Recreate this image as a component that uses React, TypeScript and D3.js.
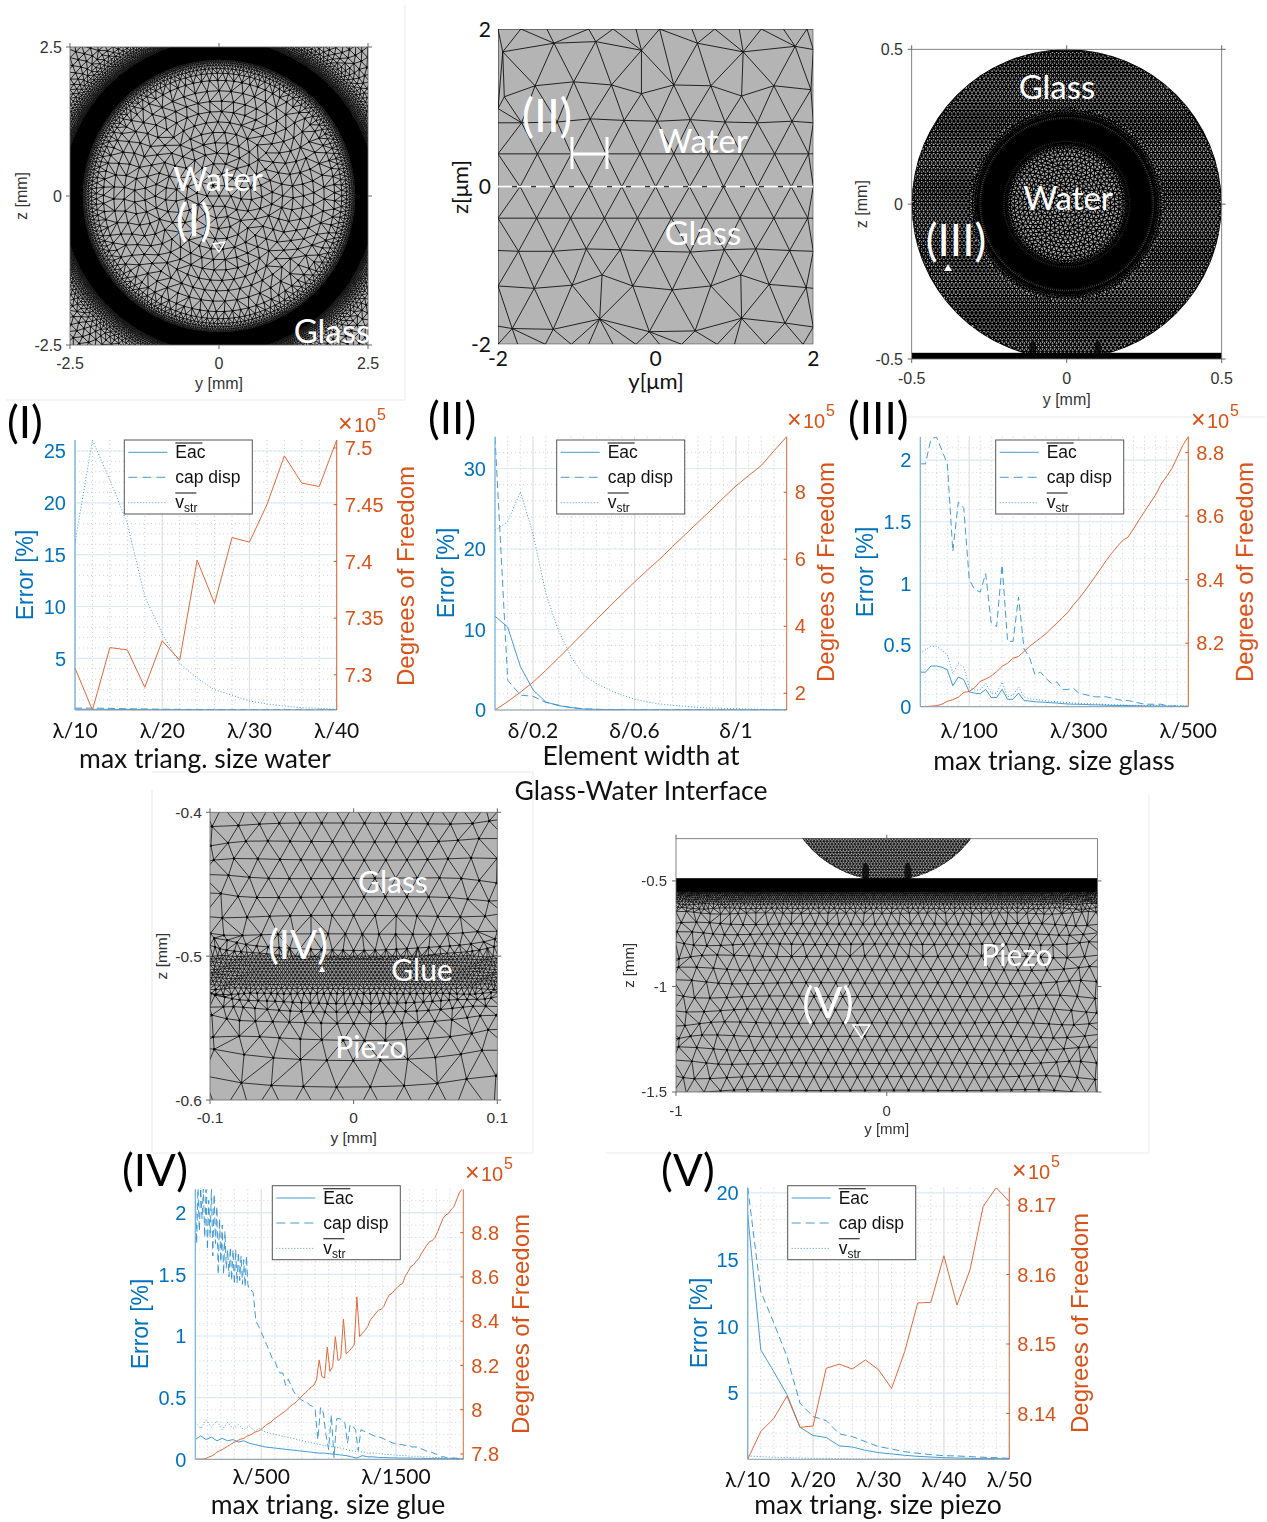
import React from 'react';
import * as d3 from 'd3';

// ---------- convergence curves ----------
const waterSizes = d3.range(10, 41, 2);
const waterEac = [.1, .09, .08, .07, .06, .05, .05, .04, .04, .03, .03, .03, .02, .02, .02, .02];
const waterCap = [.2, .2, .18, .14, .12, .1, .08, .07, .06, .05, .05, .04, .04, .03, .03, .03];
const waterVstr = [16.1, 26.06, 22.2, 18.0, 10.95, 7.4, 4.5, 3.1, 1.95, 1.46, .88, .6, .4, .24, .18, .11];
const waterDof = [7.306, 7.269, 7.324, 7.322, 7.289, 7.33, 7.313, 7.401, 7.363, 7.421, 7.417, 7.45, 7.493, 7.469, 7.466, 7.507];

const interfaceSizes = d3.range(1, 25).map(i => i * 0.05);
const interfaceEac = [11.65, 10.3, 5.4, 2.5, 1.0, .55, .3, .12, .08, .05, .04, .03, .03, .02, .02, .02, .01, .01, .01, .01, .01, .01, .01, .01];
const interfaceCap = [33.9, 3.7, 1.85, 1.7, .95, .6, .3, .15, .08, .05, .04, .03, .03, .02, .02, .02, .01, .01, .01, .01, .01, .01, .01, .01];
const interfaceVstr = [22.3, 23.4, 27.1, 21.9, 14.5, 9.9, 6.6, 4.3, 3.3, 2.5, 1.85, 1.35, 1.0, .75, .58, .45, .33, .25, .2, .16, .12, .08, .06, .05];
const interfaceDof = [1.5, 1.75, 2.03, 2.33, 2.68, 3.05, 3.43, 3.81, 4.2, 4.58, 4.95, 5.32, 5.67, 6.01, 6.38, 6.74, 7.1, 7.46, 7.83, 8.19, 8.5, 8.8, 9.24, 9.66];

const glassSizes = d3.range(10, 501, 10);
const glassCap = [1.97, 1.97, 2.17, 2.19, 2.08, 1.97, 1.26, 1.66, 1.61, 1.03, .95, .93, 1.08, .68, .65, 1.15, .53, .53, .89, .47, .4, .26, .28, .23, .19, .2, .14, .14, .15, .11, .1, .09, .08, .08, .08, .07, .06, .05, .05, .04, .03, .02, .02, .02, .02, .01, .003, .01, .003, .003];
const glassEac = [.28, .28, .33, .33, .32, .3, .17, .24, .22, .12, .11, .105, .14, .075, .075, .14, .06, .06, .11, .05, .046, .04, .038, .035, .032, .03, .025, .022, .02, .02, .018, .016, .015, .014, .012, .011, .01, .01, .009, .008, .007, .006, .006, .005, .005, .004, .004, .003, .003, .003];
const glassVstr = [.43, .46, .49, .49, .46, .42, .27, .35, .32, .16, .135, .135, .19, .11, .11, .2, .08, .095, .16, .08, .065, .06, .054, .05, .043, .04, .036, .033, .03, .028, .026, .024, .022, .02, .018, .016, .015, .014, .012, .011, .01, .01, .009, .008, .008, .007, .006, .006, .005, .005];
const glassDof = [8.0, 8.0, 8.002, 8.003, 8.008, 8.017, 8.022, 8.03, 8.045, 8.048, 8.06, 8.08, 8.087, 8.097, 8.11, 8.127, 8.137, 8.153, 8.158, 8.174, 8.19, 8.203, 8.216, 8.23, 8.247, 8.263, 8.28, 8.297, 8.32, 8.34, 8.362, 8.386, 8.41, 8.435, 8.46, 8.483, 8.504, 8.523, 8.534, 8.56, 8.588, 8.614, 8.64, 8.666, 8.7, 8.724, 8.75, 8.786, 8.823, 8.85];

const glueCapSizes = [...d3.range(10, 420, 10), ...d3.range(420, 2001, 20)];
const glueCap = [
  2.19, 1.75, 2.2, 1.85, 2.2, 1.95, 2.2, 1.8, 2.19, 1.7, 2.1, 1.8, 2.2, 1.65, 2.15, 1.75, 2.05, 1.5, 1.95, 1.6, 1.9, 1.5, 1.85, 1.55, 1.7, 1.48, 1.72, 1.45, 1.7, 1.42, 1.7, 1.43, 1.68, 1.45, 1.65, 1.42, 1.62, 1.4, 1.65, 1.42, 1.38,
  1.38, 1.35, 1.12, 1.08, 1.03, .98, .93, .88, .82, .8, .74, .7, .7, .6, .65, .6, .55, .52, .5, .48, .47, .46, .44, .43, .4, .16, .42, .38, .2, .08, .36, .01, .33, .33, .32, .3, .13, .28, .27, .24, .07, .24, .23, .22, .21, .2, .19, .18, .18, .17, .16, .15, .14, .13, .13, .12, .12, .115, .11, .11, .1, .1, .1, .09, .08, .07, .06, .06, .05, .04, .03, .02, .02, .01, .01, .01, .01, .005, .005, .005,
];
const glueSizes = d3.range(10, 2011, 40);
const glueEac = [.16, .19, .16, .18, .15, .17, .15, .16, .14, .15, .13, .12, .11, .1, .095, .09, .085, .08, .075, .07, .065, .06, .055, .05, .05, .045, .04, .035, .03, .02, .01, .03, .02, .02, .015, .015, .012, .012, .01, .01, .01, .008, .008, .006, .006, .005, .005, .004, .004, .003, .003];
const glueVstr = [.3, .25, .32, .26, .31, .24, .3, .25, .28, .24, .27, .23, .25, .22, .21, .2, .19, .18, .17, .16, .15, .14, .13, .12, .11, .105, .1, .09, .08, .07, .06, .06, .05, .05, .05, .04, .04, .035, .03, .03, .025, .025, .02, .02, .015, .015, .012, .01, .01, .008, .008];
const glueDofSizes = d3.range(10, 2001, 20);
const glueDof = [
  7.777, 7.777, 7.777, 7.777, 7.78, 7.786, 7.79, 7.798, 7.808, 7.814, 7.82, 7.827, 7.835, 7.842, 7.85, 7.856, 7.862, 7.868, 7.87, 7.88,
  7.884, 7.89, 7.898, 7.902, 7.907, 7.917, 7.928, 7.937, 7.943, 7.955, 7.964, 7.973, 7.982, 7.99, 8.0, 8.012, 8.022, 8.03, 8.042, 8.053,
  8.068, 8.078, 8.09, 8.102, 8.11, 8.135, 8.225, 8.15, 8.143, 8.283, 8.173, 8.195, 8.33, 8.222, 8.233, 8.41, 8.253, 8.263, 8.278, 8.293,
  8.51, 8.33, 8.346, 8.358, 8.376, 8.406, 8.42, 8.436, 8.45, 8.454, 8.466, 8.496, 8.519, 8.526, 8.54, 8.553, 8.564, 8.571, 8.605, 8.624,
  8.647, 8.654, 8.67, 8.684, 8.707, 8.725, 8.744, 8.76, 8.764, 8.779, 8.805, 8.835, 8.865, 8.88, 8.887, 8.905, 8.917, 8.947, 8.98, 8.996,
];

const piezoSizes = d3.range(10, 51, 2);
const piezoEac = [18.4, 8.25, 6.6, 4.9, 2.45, 1.83, 1.68, 1.05, .97, .72, .55, .45, .35, .27, .22, .17, .15, .12, .1, .1, .07];
const piezoCap = [20.4, 12.6, 10.25, 7.75, 4.25, 3.25, 2.95, 1.95, 1.75, 1.37, 1, .82, .62, .5, .4, .32, .3, .25, .2, .17, .12];
const piezoVstr = [.3, .25, .2, .18, .15, .12, .11, .1, .09, .08, .07, .07, .06, .06, .06, .05, .05, .05, .05, .05, .05];
const piezoDof = [8.1334, 8.1374, 8.1393, 8.1425, 8.138, 8.1382, 8.1465, 8.1471, 8.1464, 8.1477, 8.1463, 8.1436, 8.1489, 8.1559, 8.156, 8.1627, 8.1556, 8.1607, 8.1698, 8.1725, 8.1705];

// ---------- mesh nodes ----------
// panel II nodes, one row per list: [y, z] in um
const interfaceNodes: number[][] = [
  ...[-2, -1.71, -1.38, -.85, -.54, -.25, .05, .46, .75, 1.06, 1.34, 1.62, 1.92, 2].map(y => [y, 2]),
  [-1.94, 1.71], [-1.29, 1.82], [-.76, 1.84], [-.18, 1.73], [.53, 1.82], [1.11, 1.71], [1.77, 1.78], [2, 1.74],
  [-2, .99], [-1.92, 1.14], [-1.53, 1.28], [-1.04, 1.33], [-.56, 1.29], [-.18, 1.18], [.23, 1.29], [.7, 1.28], [1.09, 1.15], [1.5, 1.28], [1.97, 1.23],
  [-2, .81], [-1.7, .81], [-1.25, .82], [-.83, .86], [-.4, .84], [.02, .83], [.44, .85], [.88, .82], [1.29, .81], [1.73, .83], [2, .81],
  ...[-2, -1.5, -1.07, -.63, -.2, .23, .67, 1.09, 1.51, 1.94, 2].map(y => [y, .416]),
  ...[-2, -1.72, -1.29, -.85, -.43, 0, .43, .86, 1.29, 1.72, 2].map(y => [y, 0]),
  ...[-2, -1.51, -1.08, -.65, -.23, .2, .64, 1.07, 1.5, 1.93, 2].map(y => [y, -.4]),
  [-2, -.81], [-1.74, -.82], [-1.3, -.82], [-.88, -.79], [-.45, -.8], [-.03, -.82], [.44, -.83], [.87, -.8], [1.27, -.79], [1.7, -.81], [2, -.82],
  [-2, -1.26], [-1.54, -1.29], [-1.06, -1.25], [-.68, -1.12], [-.29, -1.26], [.21, -1.31], [.7, -1.26], [1.08, -1.12], [1.44, -1.24], [1.91, -1.28], [2, -1.29],
  [-2, -1.77], [-1.82, -1.8], [-1.3, -1.81], [-.71, -1.68], [-.08, -1.84], [.5, -1.83], [1.09, -1.67], [1.64, -1.73], [2, -1.78],
  ...[-2, -1.75, -1.4, -1.07, -.85, -.54, -.25, .05, .33, .78, 1, 1.39, 1.87, 2].map(y => [y, -2]),
];

// horizontal node rows of panels IV and V, z in mm
const glueRows = [
  -.3948, -.4076, -.4204, -.4331, -.4459, -.4589, -.4718, -.4846, -.4922, -.4975,
  -.5, -.5022, -.5044, -.5066, -.5088, -.511, -.5132, -.5154, -.5176, -.5198,
  -.5225, -.526, -.5305, -.5365, -.5444, -.556, -.5699, -.5884, -.61,
];
const piezoRows = [
  -.547, -.553, -.56, -.568, -.577, -.587, -.598, -.61, -.63, -.653, -.704, -.751, -.8, -.857, -.92, -.983, -1.047,
  -1.11, -1.173, -1.237, -1.3, -1.364, -1.428, -1.492, -1.556,
];

function ringNodes(size: (r: number) => number, rMax: number, keep: (y: number, z: number) => boolean) {
  const pts: number[][] = [[0, 0]];
  let r = size(0);
  let k = 0;
  while (r < rMax) {
    const h = size(r);
    const n = Math.max(5, Math.round((2 * Math.PI * r) / h));
    for (let i = 0; i < n; i++) {
      const a = ((i + (k % 2) / 2) / n) * 2 * Math.PI + k * 0.13;
      const y = r * Math.cos(a);
      const z = r * Math.sin(a);
      if (keep(y, z)) pts.push([y, z]);
    }
    r += h * 0.87;
    k++;
  }
  return pts;
}

function hexNodes(h: number, yMin: number, yMax: number, zMin: number, zMax: number, keep: (y: number, z: number) => boolean) {
  const pts: number[][] = [];
  let row = 0;
  for (let z = zMin; z <= zMax; z += h * 0.866, row++) {
    for (let y = yMin + (row % 2) * h * 0.5; y <= yMax; y += h) {
      if (keep(y, z)) pts.push([y, z]);
    }
  }
  return pts;
}

function rowNodes(rows: number[], yMin: number, yMax: number, bend: (z: number, t: number) => number) {
  const pts: number[][] = [];
  const mid = (yMin + yMax) / 2;
  const half = (yMax - yMin) / 2;
  let prevH = 0;
  rows.forEach((z, i) => {
    const above = i > 0 ? rows[i - 1] - z : z - rows[1];
    const below = i < rows.length - 1 ? z - rows[i + 1] : above;
    const gap = (above + below) / 2;
    const wanted = gap * 1.155;
    const h = prevH && Math.abs(wanted / prevH - 1) < 0.14 ? prevH : wanted;
    prevH = h;
    const count = Math.ceil(half / h) + 2;
    for (let k = -count; k <= count; k++) {
      const y = mid + (k + (i % 2) / 2) * h;
      const t = (y - mid) / half;
      const wobble = Math.min(1, t * t * t * t + 0.05);
      pts.push([
        y + 0.28 * h * wobble * Math.sin(k * 1.3 + i * 2.1),
        z + 0.25 * gap * wobble * Math.cos(k * 0.7 + i * 1.1) + bend(z, t),
      ]);
    }
  });
  return pts;
}

// small dots on the nodes, the blurred scan of the mesh shows them darker than the edges
function dotsPath(points: number[][], radius: (p: number[]) => number) {
  const path = d3.path();
  points.forEach(p => {
    const r = radius(p);
    path.moveTo(p[0] + r, p[1]);
    path.arc(p[0], p[1], r, 0, 2 * Math.PI);
  });
  return path.toString();
}

// panel I: water core and glass corners graded towards the interface
const sizeI = d3.scaleLinear().domain([0, 1.8, 2.0, 2.2, 2.29, 2.62, 2.8, 3.0, 3.2, 3.7]).range([.2, .2, .11, .045, .022, .022, .05, .1, .14, .14]).clamp(true);
const keepI = (y: number, z: number) => {
  const r = Math.hypot(y, z);
  return (r < 2.3 || r > 2.6) && Math.abs(y) < 2.7 && Math.abs(z) < 2.7;
};
const nodesI = ringNodes(sizeI, 3.9, keepI);
const delaunayI = d3.Delaunay.from(nodesI);
const dotsI = dotsPath(nodesI, p => Math.min(.0185, sizeI(Math.hypot(p[0], p[1])) * .13));

// panel III: fine water core, fine ring, even glass
const sizeIII = d3.scaleLinear().domain([0, .165, .2, .28, .31]).range([.016, .016, .006, .006, .013]).clamp(true);
const discIII = [
  ...ringNodes(sizeIII, .31, (y, z) => { const r = Math.hypot(y, z); return r < .2 || r > .28; }),
  ...hexNodes(.013, -.52, .52, -.52, .52, (y, z) => { const r = Math.hypot(y, z); return r >= .31 && r <= .5; }),
  ...d3.range(0, 216).map(i => [.5 * Math.cos(i * Math.PI / 108), .5 * Math.sin(i * Math.PI / 108)]),
];
const meshIII = d3.Delaunay.from(discIII).render();

// rows around the glue layer sag a little in the middle
const glueBend = (z: number, t: number) => {
  if (z < -.488 && z > -.4985) return .0075 * (t * t - .5);
  if (z < -.53) return .005 * (t * t - .5);
  return 0;
};
const nodesIV = rowNodes(glueRows, -.1, .1, glueBend);
const delaunayIV = d3.Delaunay.from(nodesIV);
const dotsIV = dotsPath(nodesIV, p => (p[1] < -.497 && p[1] > -.523 ? .45 : 1.2) / 1436.5);
const nodesV = rowNodes(piezoRows, -1, 1, () => 0);
const delaunayV = d3.Delaunay.from(nodesV);
const dotsV = dotsPath(nodesV, p => (p[1] > -.66 ? .5 : 1.1) / 210.75);
const discV = [
  ...hexNodes(.0155, -.5, .5, -.5, -.27, (y, z) => Math.hypot(y, z) <= .5),
  ...d3.range(0, 216).map(i => [.5 * Math.cos(i * Math.PI / 108), .5 * Math.sin(i * Math.PI / 108)]).filter(p => p[1] < -.27),
];
const meshVDisc = d3.Delaunay.from(discV).render();

const SANS = "'Liberation Sans', Arial, sans-serif";
const LABEL = "Lato, 'Open Sans', sans-serif";
const BLUE = '#0072BD';
const ORANGE = '#D95319';
const MESH_GREY = '#b4b4b4';
const FAINT = '#e9e9e9';
const FIXED_STROKE = { vectorEffect: 'non-scaling-stroke' } as any;

const frameLines = [
  [405, 5, 405, 400], [6, 400, 405, 400], [905, 417, 1265, 417],
  [152, 772, 533, 772], [533, 772, 533, 1153], [152, 790, 152, 1153], [152, 1153, 533, 1153],
  [606, 1153, 1149, 1153], [1149, 795, 1149, 1153],
];

type Series = { xs: number[]; ys: number[] };
type ChartProps = {
  id: string;
  box: { l: number; r: number; t: number; b: number };
  xDomain: number[]; xTicks: number[]; xLabels: string[]; xMinor: number[]; xTickY: number;
  yDomain: number[]; yTicks: number[]; yMinor: number[];
  dofDomain: number[]; dofTicks: number[];
  eac: Series; cap: Series; vstr: Series; dof: Series;
  legend: number[]; errorX: number; errorY: number; dofX: number; dofY: number; power: number[];
};

function LegendLabels({ x, y }: { x: number; y: number }) {
  return (
    <g fontFamily={SANS} fontSize={17.5} fill="#111">
      <text x={x + 51} y={y + 18}>Eac</text>
      <line x1={x + 51} x2={x + 78} y1={y + 3} y2={y + 3} stroke="#333" strokeWidth={1.2} />
      <text x={x + 51} y={y + 43}>cap disp</text>
      <text x={x + 51} y={y + 68}>v<tspan fontSize={12} dy={4}>str</tspan></text>
      <line x1={x + 51} x2={x + 72} y1={y + 53} y2={y + 53} stroke="#333" strokeWidth={1.2} />
    </g>
  );
}

function ConvergenceChart(p: ChartProps) {
  const { l, r, t, b } = p.box;
  const x = d3.scaleLinear().domain(p.xDomain).range([l, r]);
  const y = d3.scaleLinear().domain(p.yDomain).range([b, t]);
  const yDof = d3.scaleLinear().domain(p.dofDomain).range([b, t]);
  const path = (s: Series, sy: d3.ScaleLinear<number, number>) =>
    d3.line<number>().x((_, i) => x(s.xs[i])).y(d => sy(d))(s.ys) || '';
  const [lx, ly] = p.legend;
  return (
    <g>
      <clipPath id={p.id}><rect x={l} y={t} width={r - l} height={b - t} /></clipPath>
      {p.xMinor.map(v => <line key={v} x1={x(v)} x2={x(v)} y1={t} y2={b} stroke="#bdbdbd" strokeWidth={0.8} strokeDasharray="1 3" />)}
      {p.yMinor.map(v => <line key={v} x1={l} x2={r} y1={y(v)} y2={y(v)} stroke="#b9cfde" strokeWidth={0.8} strokeDasharray="1 3" />)}
      {p.xTicks.map(v => <line key={v} x1={x(v)} x2={x(v)} y1={t} y2={b} stroke="#e3e3e3" strokeWidth={1.2} />)}
      {p.yTicks.map(v => <line key={v} x1={l} x2={r} y1={y(v)} y2={y(v)} stroke="#dcebf5" strokeWidth={1.2} />)}
      <g clipPath={`url(#${p.id})`} fill="none">
        <path d={path(p.vstr, y)} stroke="#2f8fd0" strokeWidth={0.9} strokeDasharray="1 2" />
        <path d={path(p.cap, y)} stroke="#2f8fd0" strokeWidth={0.9} strokeDasharray="7 4" />
        <path d={path(p.eac, y)} stroke="#2f8fd0" strokeWidth={0.9} />
        <path d={path(p.dof, yDof)} stroke="#e2693a" strokeWidth={1} />
      </g>
      <line x1={l} x2={r} y1={b} y2={b} stroke="#8a9aa5" strokeWidth={1} />
      <line x1={l} x2={l} y1={t} y2={b} stroke="#6fb0dc" strokeWidth={1.2} />
      <line x1={r} x2={r} y1={t} y2={b} stroke={ORANGE} strokeWidth={1} opacity={0.85} />
      {p.yTicks.map(v => (
        <text key={v} x={l - 9} y={y(v)} dy=".36em" textAnchor="end" fontFamily={SANS} fontSize={20} fill={BLUE}>{v}</text>
      ))}
      {p.dofTicks.map(v => (
        <g key={v}>
          <line x1={r - 3} x2={r} y1={yDof(v)} y2={yDof(v)} stroke={ORANGE} />
          <text x={r + 8} y={yDof(v)} dy=".36em" fontFamily={SANS} fontSize={20} fill={ORANGE}>{v}</text>
        </g>
      ))}
      {p.xTicks.map((v, i) => (
        <text key={v} x={x(v)} y={p.xTickY} textAnchor="middle" fontFamily={LABEL} fontSize={21} fill="#111">{p.xLabels[i]}</text>
      ))}
      <text transform={`translate(${p.errorX},${p.errorY}) rotate(-90)`} dy=".35em" textAnchor="middle" fontFamily={SANS} fontSize={23} fill={BLUE}>Error [%]</text>
      <text transform={`translate(${p.dofX},${p.dofY}) rotate(-90)`} dy=".35em" textAnchor="middle" fontFamily={SANS} fontSize={24} fill={ORANGE}>Degrees of Freedom</text>
      <g fontFamily={SANS} fill={ORANGE}>
        <text x={p.power[0] - 1} y={p.power[1]} fontSize={25}>×</text>
        <text x={p.power[0] + 15} y={p.power[1]} fontSize={20}>10</text>
        <text x={p.power[0] + 38} y={p.power[1] - 12} fontSize={16}>5</text>
      </g>
      <rect x={lx} y={ly} width={128} height={74} fill="#fff" stroke="#555" strokeWidth={1} />
      <line x1={lx + 4} x2={lx + 43} y1={ly + 12.3} y2={ly + 12.3} stroke="#2f8fd0" strokeWidth={0.9} />
      <line x1={lx + 4} x2={lx + 43} y1={ly + 37.3} y2={ly + 37.3} stroke="#2f8fd0" strokeWidth={0.9} strokeDasharray="9 5" />
      <line x1={lx + 4} x2={lx + 43} y1={ly + 62.7} y2={ly + 62.7} stroke="#2f8fd0" strokeWidth={0.9} strokeDasharray="1 2" />
      <LegendLabels x={lx} y={ly} />
    </g>
  );
}

type MeshFrameProps = {
  x: d3.ScaleLinear<number, number>; y: d3.ScaleLinear<number, number>;
  xTicks: number[]; yTicks: number[]; xBase: number; yRight: number;
  xTitle: string; xTitleY: number; zTitleX: number; fontSize: number;
};

function MeshFrame(p: MeshFrameProps) {
  const [l, r] = p.x.range();
  const [b, t] = p.y.range();
  return (
    <g fontFamily={SANS} fontSize={p.fontSize} fill="#333">
      <rect x={l} y={t} width={r - l} height={b - t} fill="none" stroke="#666" strokeWidth={0.8} />
      {p.xTicks.map(v => (
        <g key={v}>
          <line x1={p.x(v)} x2={p.x(v)} y1={b} y2={b + 4} stroke="#666" />
          <line x1={p.x(v)} x2={p.x(v)} y1={t} y2={t - 4} stroke="#666" />
          <text x={p.x(v)} y={p.xBase} textAnchor="middle">{v}</text>
        </g>
      ))}
      {p.yTicks.map(v => (
        <g key={v}>
          <line x1={l - 4} x2={l} y1={p.y(v)} y2={p.y(v)} stroke="#666" />
          <line x1={r} x2={r + 4} y1={p.y(v)} y2={p.y(v)} stroke="#666" />
          <text x={p.yRight} y={p.y(v)} dy=".36em" textAnchor="end">{v}</text>
        </g>
      ))}
      <text x={(l + r) / 2} y={p.xTitleY} textAnchor="middle">{p.xTitle}</text>
      <text transform={`translate(${p.zTitleX},${(t + b) / 2}) rotate(-90)`} dy=".35em" textAnchor="middle">z [mm]</text>
    </g>
  );
}

function WhiteLabel({ x, y, size = 33, children }: any) {
  return <text x={x} y={y} fontFamily={LABEL} fontSize={size} textAnchor="middle" fill="#fff">{children}</text>;
}

function BigLabel({ x, y, children }: any) {
  return <text x={x} y={y} fontFamily={LABEL} fontSize={44} fill="#000">{children}</text>;
}

function Caption({ x, y, children }: any) {
  return <text x={x} y={y} textAnchor="middle" fontFamily={LABEL} fontSize={26.5} fill="#111">{children}</text>;
}

export default function App() {
  const xI = d3.scaleLinear().domain([-2.5, 2.5]).range([70, 368]);
  const zI = d3.scaleLinear().domain([-2.5, 2.5]).range([345, 47]);
  const xII = d3.scaleLinear().domain([-2, 2]).range([498, 813.3]);
  const zII = d3.scaleLinear().domain([-2, 2]).range([344.3, 29]);
  const xIII = d3.scaleLinear().domain([-.5, .5]).range([911.7, 1221.7]);
  const zIII = d3.scaleLinear().domain([-.5, .5]).range([359, 49.3]);
  const xIV = d3.scaleLinear().domain([-.1, .1]).range([210, 497.3]);
  const zIV = d3.scaleLinear().domain([-.6, -.4]).range([1100, 812.3]);
  const xV = d3.scaleLinear().domain([-1, 1]).range([676, 1097.5]);
  const zV = d3.scaleLinear().domain([-1.5, -.3]).range([1092, 838.7]);

  const toPx = (x: d3.ScaleLinear<number, number>, z: d3.ScaleLinear<number, number>) =>
    `matrix(${x(1) - x(0)},0,0,${z(1) - z(0)},${x(0)},${z(0)})`;
  const arcI = (d3.arc() as any)({ innerRadius: xI(2.29) - xI(0), outerRadius: xI(2.62) - xI(0), startAngle: 0, endAngle: 2 * Math.PI }) || '';
  const arcIII = (d3.arc() as any)({ innerRadius: xIII(.2) - xIII(0), outerRadius: xIII(.28) - xIII(0), startAngle: 0, endAngle: 2 * Math.PI }) || '';

  return (
    <svg width={1267} height={1522} style={{ position: 'absolute', left: 0, top: 0, background: '#fff' }}>
      <defs>
        <filter id="soft" x="-5%" y="-5%" width="110%" height="110%"><feGaussianBlur stdDeviation="0.45" /></filter>
        <filter id="softRing" x="-10%" y="-10%" width="120%" height="120%"><feGaussianBlur stdDeviation="1.6" /></filter>
        <clipPath id="clipI"><rect x={70} y={47} width={298} height={298} /></clipPath>
        <clipPath id="clipII"><rect x={498} y={29} width={315.3} height={315.3} /></clipPath>
        <clipPath id="clipIII"><rect x={911.7} y={49.3} width={310} height={309.7} /></clipPath>
        <clipPath id="clipIV"><rect x={210} y={812.3} width={287.3} height={287.7} /></clipPath>
        <clipPath id="clipV"><rect x={676} y={838.7} width={421.5} height={253.3} /></clipPath>
        <clipPath id="discIII"><circle cx={xIII(0)} cy={zIII(0)} r={xIII(.5) - xIII(0)} /></clipPath>
        <clipPath id="discV"><circle cx={xV(0)} cy={zV(0)} r={xV(.5) - xV(0)} /></clipPath>
      </defs>

      {frameLines.map((d, i) => <line key={i} x1={d[0]} y1={d[1]} x2={d[2]} y2={d[3]} stroke={FAINT} />)}

      {/* panel I */}
      <g clipPath="url(#clipI)">
        <g filter="url(#soft)">
          <rect x={70} y={47} width={298} height={298} fill={MESH_GREY} />
          <path d={delaunayI.render()} transform={toPx(xI, zI)} fill="none" stroke="#111" strokeWidth={0.9} style={FIXED_STROKE} />
          <path d={dotsI} transform={toPx(xI, zI)} fill="#000" />
          <path d={arcI} transform={`translate(${xI(0)},${zI(0)})`} fill="#000" />
        </g>
      </g>
      <MeshFrame x={xI} y={zI} xTicks={[-2.5, 0, 2.5]} yTicks={[-2.5, 0, 2.5]} xBase={369} yRight={62} xTitle="y [mm]" xTitleY={389} zTitleX={21} fontSize={16} />
      <WhiteLabel x={218} y={191}>Water</WhiteLabel>
      <WhiteLabel x={194} y={236} size={44}>(I)</WhiteLabel>
      <WhiteLabel x={332} y={343}>Glass</WhiteLabel>
      <path d={d3.line()([[213, 244], [225, 242], [219, 252]]) + 'Z'} fill="none" stroke="#fff" strokeWidth={1.4} />

      {/* panel II */}
      <g clipPath="url(#clipII)">
        <rect x={498} y={29} width={315.3} height={315.3} fill={MESH_GREY} />
        <path d={d3.Delaunay.from(interfaceNodes).render()} transform={toPx(xII, zII)} fill="none" stroke="#111" strokeWidth={0.9} style={FIXED_STROKE} />
      </g>
      <line x1={xII(-2)} x2={xII(2)} y1={zII(0)} y2={zII(0)} stroke="#fff" strokeWidth={1.8} strokeDasharray="14 5" />
      <g fontFamily={LABEL} fill="#111">
        <g fontSize={21}>
          {[-2, 0, 2].map(v => <text key={v} x={xII(v)} y={366} textAnchor="middle">{v}</text>)}
          {[-2, 0, 2].map(v => <text key={v} x={491} y={zII(v)} dy=".36em" textAnchor="end">{v}</text>)}
        </g>
        <g fontSize={22}>
          <text x={656} y={389} textAnchor="middle">y[μm]</text>
          <text transform={`translate(460,187) rotate(-90)`} dy=".35em" textAnchor="middle">z[μm]</text>
        </g>
      </g>
      <WhiteLabel x={547} y={132} size={46}>(II)</WhiteLabel>
      <WhiteLabel x={703} y={153}>Water</WhiteLabel>
      <WhiteLabel x={703} y={245}>Glass</WhiteLabel>
      <g stroke="#fff" strokeWidth={3}>
        <line x1={572} x2={607} y1={154} y2={154} />
        <line x1={572} x2={572} y1={137} y2={169} />
        <line x1={607} x2={607} y1={137} y2={169} />
      </g>

      {/* panel III */}
      <g clipPath="url(#clipIII)">
        <g filter="url(#soft)">
          <circle cx={xIII(0)} cy={zIII(0)} r={xIII(.5) - xIII(0)} fill={MESH_GREY} />
          <g clipPath="url(#discIII)">
            <path d={meshIII} transform={toPx(xIII, zIII)} fill="none" stroke="#000" strokeWidth={1.15} style={FIXED_STROKE} />
          </g>
        </g>
        <path d={arcIII} transform={`translate(${xIII(0)},${zIII(0)})`} fill="#000" filter="url(#softRing)" />
        <ellipse cx={xIII(-.109)} cy={zIII(-.47)} rx={3.5} ry={9} fill="#000" opacity={0.75} filter="url(#soft)" />
        <ellipse cx={xIII(.101)} cy={zIII(-.47)} rx={3.5} ry={9} fill="#000" opacity={0.75} filter="url(#soft)" />
        <rect x={xIII(-.5)} y={zIII(-.48)} width={310} height={zIII(-.5) - zIII(-.48)} fill="#000" />
      </g>
      <MeshFrame x={xIII} y={zIII} xTicks={[-.5, 0, .5]} yTicks={[-.5, 0, .5]} xBase={384} yRight={903} xTitle="y [mm]" xTitleY={405} zTitleX={861} fontSize={16} />
      <WhiteLabel x={1057} y={99}>Glass</WhiteLabel>
      <WhiteLabel x={1068} y={210}>Water</WhiteLabel>
      <WhiteLabel x={956} y={256} size={44}>(III)</WhiteLabel>
      <path d={d3.line()([[944, 271], [952, 271], [948, 264]]) + 'Z'} fill="#fff" />

      {/* panel IV */}
      <g clipPath="url(#clipIV)">
        <g filter="url(#soft)">
          <rect x={210} y={812.3} width={287.3} height={287.7} fill={MESH_GREY} />
          <path d={delaunayIV.render()} transform={toPx(xIV, zIV)} fill="none" stroke="#111" strokeWidth={0.8} style={FIXED_STROKE} />
          <path d={dotsIV} transform={toPx(xIV, zIV)} fill="#000" />
        </g>
      </g>
      <MeshFrame x={xIV} y={zIV} xTicks={[-.1, 0, .1]} yTicks={[-.6, -.5, -.4]} xBase={1123} yRight={202} xTitle="y [mm]" xTitleY={1143} zTitleX={162} fontSize={15.5} />
      <WhiteLabel x={393} y={893} size={30}>Glass</WhiteLabel>
      <WhiteLabel x={298} y={959} size={40}>(IV)</WhiteLabel>
      <WhiteLabel x={422} y={981} size={30}>Glue</WhiteLabel>
      <WhiteLabel x={371} y={1058} size={30}>Piezo</WhiteLabel>
      <path d={d3.line()([[319, 972], [325, 972], [322, 966]]) + 'Z'} fill="#fff" />

      {/* panel V */}
      <g clipPath="url(#clipV)">
        <g filter="url(#soft)">
          <circle cx={xV(0)} cy={zV(0)} r={xV(.5) - xV(0)} fill={MESH_GREY} />
          <g clipPath="url(#discV)">
            <path d={meshVDisc} transform={toPx(xV, zV)} fill="none" stroke="#000" strokeWidth={0.75} style={FIXED_STROKE} />
          </g>
          <ellipse cx={xV(-.1)} cy={zV(-.46)} rx={3.5} ry={10} fill="#000" opacity={0.75} />
          <ellipse cx={xV(.1)} cy={zV(-.46)} rx={3.5} ry={10} fill="#000" opacity={0.75} />
          <rect x={676} y={zV(-.547)} width={421.5} height={zV(-1.5) - zV(-.547)} fill={MESH_GREY} />
          <path d={delaunayV.render()} transform={toPx(xV, zV)} fill="none" stroke="#111" strokeWidth={0.8} style={FIXED_STROKE} />
          <path d={dotsV} transform={toPx(xV, zV)} fill="#000" />
          <rect x={676} y={zV(-.487)} width={421.5} height={zV(-.55) - zV(-.487)} fill="#000" />
        </g>
      </g>
      <MeshFrame x={xV} y={zV} xTicks={[-1, 0]} yTicks={[-1.5, -1, -.5]} xBase={1116} yRight={667} xTitle="y [mm]" xTitleY={1134} zTitleX={629} fontSize={15} />
      <WhiteLabel x={1017} y={966} size={30}>Piezo</WhiteLabel>
      <WhiteLabel x={828} y={1018} size={42}>(V)</WhiteLabel>
      <path d={d3.line()([[853, 1025], [870, 1025], [861.5, 1038]]) + 'Z'} fill="none" stroke="#fff" strokeWidth={1.5} />

      {/* convergence charts */}
      <BigLabel x={7} y={438}>(I)</BigLabel>
      <ConvergenceChart id="chartI" box={{ l: 75, r: 336.7, t: 440, b: 710 }}
        xDomain={[10, 40]} xTicks={[10, 20, 30, 40]} xLabels={['λ/10', 'λ/20', 'λ/30', 'λ/40']} xMinor={d3.range(10, 41, 2)} xTickY={738}
        yDomain={[.02, 26.06]} yTicks={[5, 10, 15, 20, 25]} yMinor={d3.range(1, 26)}
        dofDomain={[7.269, 7.507]} dofTicks={[7.3, 7.35, 7.4, 7.45, 7.5]}
        eac={{ xs: waterSizes, ys: waterEac }} cap={{ xs: waterSizes, ys: waterCap }} vstr={{ xs: waterSizes, ys: waterVstr }} dof={{ xs: waterSizes, ys: waterDof }}
        legend={[124.3, 440]} errorX={25} errorY={575} dofX={406} dofY={576} power={[339, 432]} />
      <Caption x={205} y={768}>max triang. size water</Caption>

      <BigLabel x={428} y={434}>(II)</BigLabel>
      <ConvergenceChart id="chartII" box={{ l: 495, r: 786.7, t: 436.7, b: 710 }}
        xDomain={[.05, 1.2]} xTicks={[.2, .6, 1]} xLabels={['δ/0.2', 'δ/0.6', 'δ/1']} xMinor={d3.range(1, 25).map(i => i * .05)} xTickY={738}
        yDomain={[0, 33.95]} yTicks={[0, 10, 20, 30]} yMinor={d3.range(2, 34, 2)}
        dofDomain={[1.5, 9.66]} dofTicks={[2, 4, 6, 8]}
        eac={{ xs: interfaceSizes, ys: interfaceEac }} cap={{ xs: interfaceSizes, ys: interfaceCap }} vstr={{ xs: interfaceSizes, ys: interfaceVstr }} dof={{ xs: interfaceSizes, ys: interfaceDof }}
        legend={[556.7, 440]} errorX={446} errorY={573} dofX={826} dofY={572} power={[788, 428]} />
      <Caption x={641} y={765}>Element width at</Caption>
      <Caption x={641} y={800}>Glass-Water Interface</Caption>

      <BigLabel x={848} y={434}>(III)</BigLabel>
      <ConvergenceChart id="chartIII" box={{ l: 920.3, r: 1188.3, t: 436.7, b: 706.7 }}
        xDomain={[10.6, 500]} xTicks={[100, 300, 500]} xLabels={['λ/100', 'λ/300', 'λ/500']} xMinor={d3.range(20, 500, 20)} xTickY={738}
        yDomain={[0, 2.19]} yTicks={[0, .5, 1, 1.5, 2]} yMinor={d3.range(.1, 2.19, .1)}
        dofDomain={[8.0, 8.85]} dofTicks={[8.2, 8.4, 8.6, 8.8]}
        eac={{ xs: glassSizes, ys: glassEac }} cap={{ xs: glassSizes, ys: glassCap }} vstr={{ xs: glassSizes, ys: glassVstr }} dof={{ xs: glassSizes, ys: glassDof }}
        legend={[995.7, 440]} errorX={865} errorY={572} dofX={1245} dofY={572} power={[1192, 428]} />
      <Caption x={1054} y={770}>max triang. size glass</Caption>

      <BigLabel x={122} y={1186}>(IV)</BigLabel>
      <ConvergenceChart id="chartIV" box={{ l: 195.3, r: 463.3, t: 1189.3, b: 1459.3 }}
        xDomain={[10, 2000]} xTicks={[500, 1500]} xLabels={['λ/500', 'λ/1500']} xMinor={d3.range(100, 2000, 100)} xTickY={1484}
        yDomain={[0, 2.19]} yTicks={[0, .5, 1, 1.5, 2]} yMinor={d3.range(.1, 2.19, .1)}
        dofDomain={[7.776, 8.996]} dofTicks={[7.8, 8, 8.2, 8.4, 8.6, 8.8]}
        eac={{ xs: glueSizes, ys: glueEac }} cap={{ xs: glueCapSizes, ys: glueCap }} vstr={{ xs: glueSizes, ys: glueVstr }} dof={{ xs: glueDofSizes, ys: glueDof }}
        legend={[272.3, 1185.7]} errorX={140} errorY={1324} dofX={521} dofY={1324} power={[466, 1181]} />
      <Caption x={328} y={1514}>max triang. size glue</Caption>

      <BigLabel x={661} y={1186}>(V)</BigLabel>
      <ConvergenceChart id="chartV" box={{ l: 747.7, r: 1009.3, t: 1187.7, b: 1459.3 }}
        xDomain={[10, 50]} xTicks={[10, 20, 30, 40, 50]} xLabels={['λ/10', 'λ/20', 'λ/30', 'λ/40', 'λ/50']} xMinor={d3.range(10, 51, 2)} xTickY={1487}
        yDomain={[.05, 20.38]} yTicks={[5, 10, 15, 20]} yMinor={d3.range(1, 21)}
        dofDomain={[8.1334, 8.1725]} dofTicks={[8.14, 8.15, 8.16, 8.17]}
        eac={{ xs: piezoSizes, ys: piezoEac }} cap={{ xs: piezoSizes, ys: piezoCap }} vstr={{ xs: piezoSizes, ys: piezoVstr }} dof={{ xs: piezoSizes, ys: piezoDof }}
        legend={[787.7, 1185.7]} errorX={699} errorY={1323} dofX={1080} dofY={1323} power={[1013, 1179]} />
      <Caption x={878} y={1514}>max triang. size piezo</Caption>
    </svg>
  );
}
